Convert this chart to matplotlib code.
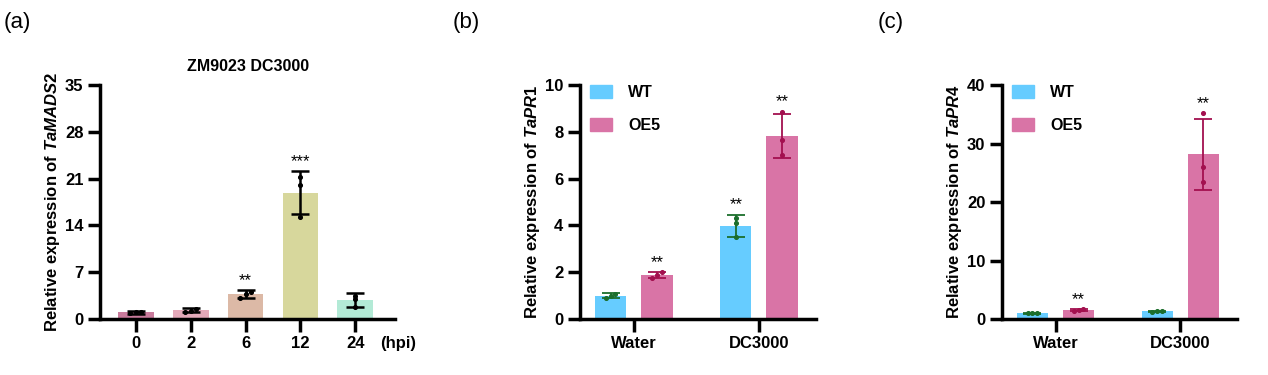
import numpy as np
import matplotlib
matplotlib.use('Agg')
import matplotlib.pyplot as plt
from matplotlib.patches import Patch

plt.rcParams['font.family'] = ['Liberation Sans', 'DejaVu Sans']
plt.rcParams['mathtext.fontset'] = 'custom'
plt.rcParams['mathtext.it'] = 'Liberation Sans:italic:bold'
plt.rcParams['mathtext.rm'] = 'Liberation Sans:bold'

# (a) time course of TaMADS2
hpi_labels = ['0', '2', '6', '12', '24']
mads_mean = [1.0, 1.3, 3.7, 18.9, 2.8]
mads_sd = [0.18, 0.3, 0.6, 3.2, 1.05]
mads_points = [[0.85, 1.0, 1.1], [1.05, 1.25, 1.55], [3.2, 3.8, 4.1],
               [15.3, 20.0, 21.2], [1.75, 3.0, 3.4]]
mads_stars = ['', '', '**', '***', '']
mads_colors = ['#c97b9c', '#e3a9b9', '#dcb9a6', '#d7d79c', '#b3ead6']

# (b) and (c) WT vs OE5
groups = ['Water', 'DC3000']
pr1_wt_mean = [1.0, 3.97]
pr1_wt_sd = [0.1, 0.48]
pr1_wt_points = [[0.9, 1.0, 1.08], [3.5, 4.1, 4.3]]
pr1_wt_stars = ['', '**']
pr1_oe_mean = [1.88, 7.83]
pr1_oe_sd = [0.12, 0.94]
pr1_oe_points = [[1.75, 1.9, 2.0], [7.0, 7.65, 8.85]]
pr1_oe_stars = ['**', '**']

pr4_wt_mean = [1.0, 1.3]
pr4_wt_sd = [0.1, 0.15]
pr4_wt_points = [[0.95, 1.0, 1.05], [1.2, 1.3, 1.4]]
pr4_wt_stars = ['', '']
pr4_oe_mean = [1.5, 28.15]
pr4_oe_sd = [0.2, 6.1]
pr4_oe_points = [[1.35, 1.5, 1.65], [23.5, 26.0, 35.2]]
pr4_oe_stars = ['**', '**']

wt_color = '#66ccff'
oe_color = '#d974a6'
wt_err = '#1b6e2c'
oe_err = '#a3104f'


def style_axis(ax, ymax, step):
    for side in ['top', 'right']:
        ax.spines[side].set_visible(False)
    for side in ['left', 'bottom']:
        ax.spines[side].set_linewidth(2.5)
    ax.set_ylim(0, ymax)
    ax.set_yticks(np.arange(0, ymax + step / 2, step))
    ax.tick_params(axis='both', width=2.5, length=9, labelsize=12, pad=3)
    for lab in ax.get_xticklabels() + ax.get_yticklabels():
        lab.set_fontweight('bold')


def draw_bar(ax, x, mean, sd, points, star, width, face, ecolor, lw, ymax):
    ax.bar(x, mean, width=width, color=face, zorder=1)
    ax.errorbar(x, mean, yerr=sd, fmt='none', ecolor=ecolor,
                elinewidth=lw, capsize=6.5, capthick=lw, zorder=3)
    spread = max(points) - min(points)
    if spread < 0.03 * ymax:
        offs = np.linspace(-0.1, 0.1, len(points)) * width / 0.65
    else:
        offs = np.zeros(len(points))
    ax.scatter(x + offs, points, s=7, color=ecolor, zorder=4)
    if star:
        top = max(mean + sd, max(points))
        ax.text(x, top + 0.01 * ymax, star, ha='center', va='bottom',
                fontsize=12, color='black')


fig = plt.figure(figsize=(12.68, 3.75), dpi=100)

# panel (a)
ax1 = fig.add_axes([0.0789, 0.1493, 0.2327, 0.624])
xa = np.arange(len(hpi_labels))
for i in xa:
    draw_bar(ax1, i, mads_mean[i], mads_sd[i], mads_points[i], mads_stars[i],
             0.65, mads_colors[i], 'black', 1.8, 35)
ax1.set_xlim(-0.655, 4.727)
ax1.set_xticks(xa)
ax1.set_xticklabels(hpi_labels)
style_axis(ax1, 35, 7)
ax1.set_title('ZM9023 DC3000', fontsize=11.5, fontweight='bold', pad=10)
ax1.set_ylabel('Relative expression of $\\mathit{TaMADS2}$', fontsize=12,
               fontweight='bold', labelpad=2)
ax1.text(0.95, -0.105, '(hpi)', transform=ax1.transAxes, ha='left',
         va='center', fontsize=12, fontweight='bold')


def grouped_panel(rect, wt_mean, wt_sd, wt_pts, wt_st, oe_mean, oe_sd,
                  oe_pts, oe_st, ymax, step, gene):
    ax = fig.add_axes(rect)
    xg = np.arange(len(groups))
    off = 0.185
    w = 0.25
    for i in xg:
        draw_bar(ax, i - off, wt_mean[i], wt_sd[i], wt_pts[i], wt_st[i],
                 w, wt_color, wt_err, 1.3, ymax)
        draw_bar(ax, i + off, oe_mean[i], oe_sd[i], oe_pts[i], oe_st[i],
                 w, oe_color, oe_err, 1.3, ymax)
    ax.set_xlim(-0.43, 1.456)
    ax.set_xticks(xg)
    ax.set_xticklabels(groups)
    style_axis(ax, ymax, step)
    ax.set_ylabel('Relative expression of $\\mathit{%s}$' % gene, fontsize=12,
                  fontweight='bold', labelpad=2)
    handles = [Patch(color=wt_color, label='WT'),
               Patch(color=oe_color, label='OE5')]
    ax.legend(handles=handles, loc='upper left', bbox_to_anchor=(0.0, 1.04),
              frameon=False, handlelength=1.4, handleheight=0.85,
              handletextpad=1.0, labelspacing=1.1, borderaxespad=0.2,
              prop={'weight': 'bold', 'size': 11.5})
    return ax


grouped_panel([0.4574, 0.1493, 0.1861, 0.624], pr1_wt_mean, pr1_wt_sd,
              pr1_wt_points, pr1_wt_stars, pr1_oe_mean, pr1_oe_sd,
              pr1_oe_points, pr1_oe_stars, 10, 2, 'TaPR1')
grouped_panel([0.7902, 0.1493, 0.1853, 0.624], pr4_wt_mean, pr4_wt_sd,
              pr4_wt_points, pr4_wt_stars, pr4_oe_mean, pr4_oe_sd,
              pr4_oe_points, pr4_oe_stars, 40, 10, 'TaPR4')

for label, xpos in [('(a)', 0.003), ('(b)', 0.357), ('(c)', 0.692)]:
    fig.text(xpos, 0.94, label, fontsize=16, ha='left', va='center')

fig.savefig('out.png', dpi=100)
